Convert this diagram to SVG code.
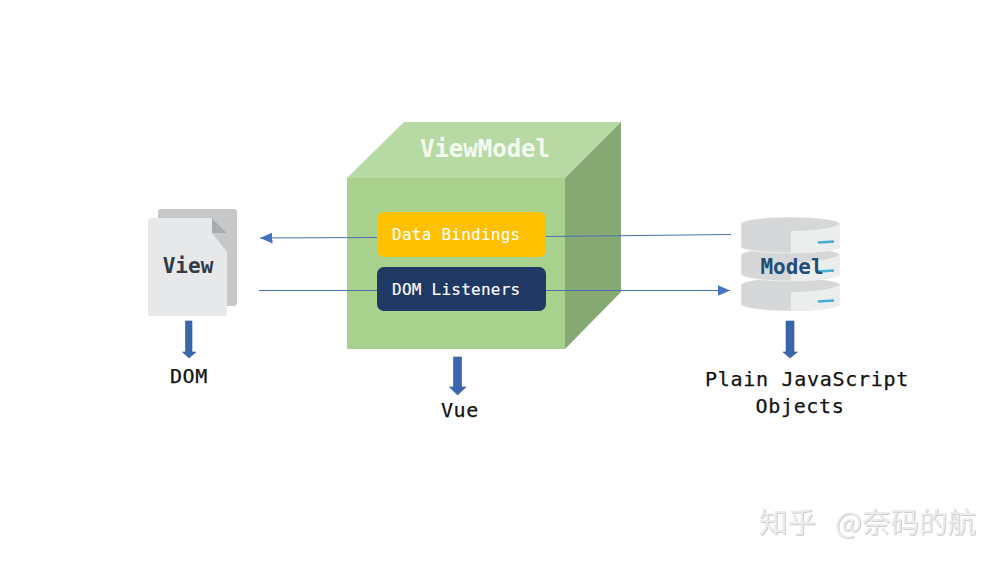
<svg xmlns="http://www.w3.org/2000/svg" width="1002" height="563" viewBox="0 0 1002 563">
<style>
text{font-family:"DejaVu Sans Mono","Liberation Mono",monospace}
.cap{font-size:20px;fill:#111;letter-spacing:.7px;stroke:#111;stroke-width:.25px}
.in{font-size:16px;fill:#fff;letter-spacing:.25px;stroke:#fff;stroke-width:.15px}
.big{font-weight:700;font-size:21px}
.wm{font-family:"Noto Sans CJK SC",sans-serif;font-size:28.500px;fill:#ececec}
.line{fill:none;stroke:#4a72ad;stroke-width:1.1}
.down{fill:#3a66ae;stroke:#2f5597;stroke-width:.6}
.side{fill:#d5d7d8}
.panel{fill:#eceded}
.disk{stroke:#fff;stroke-width:.5}
</style>
<defs>
<marker id="ah" markerUnits="userSpaceOnUse" markerWidth="13" markerHeight="12" refX="12.5" refY="6" orient="auto"><path d="M0 .5L12.5 6L0 11.5Z" fill="#4472c4"/></marker>
<filter id="emboss" x="-5%" y="-20%" width="110%" height="140%"><feDropShadow dx=".8" dy=".8" stdDeviation=".5" flood-color="#c4c4c4"/></filter>
</defs>
<rect width="1002" height="563" fill="#fff"/>
<g id="view">
<rect x="158" y="209" width="79" height="97" rx="3" fill="#c6c8ca"/>
<path d="M151 218H212L227 233V313a3 3 0 0 1-3 3H151a3 3 0 0 1-3-3V221a3 3 0 0 1 3-3Z" fill="#e7e8e9"/>
<path d="M212 218L227 233H212Z" fill="#a9abad"/>
<path d="M212 233H227V252Z" fill="#c6c8ca"/>
<text class="big" x="188" y="273" text-anchor="middle" fill="#333a48">View</text>
</g>
<g id="dom">
<path class="down" d="M185.500 321H192V352H196L189 358L182.500 352H185.500Z"/>
<text class="cap" x="189" y="383" text-anchor="middle">DOM</text>
</g>
<g id="viewmodel">
<path d="M347 178L404 122H621L565 178Z" fill="#b7d9a4"/>
<path d="M565 178L621 122V292L565 349Z" fill="#86a973"/>
<rect x="347" y="178" width="218" height="171" fill="#a9d18e"/>
<text x="485" y="157" text-anchor="middle" font-size="24" font-weight="700" fill="#f5faf0">ViewModel</text>
</g>
<g id="data-bindings">
<rect x="377" y="212" width="169" height="45" rx="7" fill="#ffc000"/>
<text class="in" x="392" y="240">Data Bindings</text>
</g>
<g id="dom-listeners">
<rect x="377" y="267" width="169" height="44" rx="7" fill="#1f3864"/>
<text class="in" x="392" y="295">DOM Listeners</text>
</g>
<g id="vue">
<path class="down" d="M453.500 357H461.500V387H466L457.500 395L449.500 387H453.500Z"/>
<text class="cap" x="460" y="417" text-anchor="middle">Vue</text>
</g>
<g id="model">
<g class="disk">
<path class="side" d="M741 285A49.500 7 0 0 1 840 285V304C840 308 815 311 790 311C765 311 741 308 741 304Z"/>
<path class="panel" stroke="none" d="M791 292C815 292 832 289 840 285V304C840 308 815 311 791 311Z"/>
</g>
<g class="disk">
<path class="side" d="M741 255A49.500 7 0 0 1 840 255V274C840 278 815 281 790 281C765 281 741 278 741 274Z"/>
<path class="panel" stroke="none" d="M791 262C815 262 832 259 840 255V274C840 278 815 281 791 281Z"/>
</g>
<g class="disk">
<path class="side" d="M741 224A49.500 7 0 0 1 840 224V247C840 250 815 253 790 253C765 253 741 250 741 247Z"/>
<path class="panel" stroke="none" d="M791 231C815 231 832 228 840 224V247C840 250 815 253 791 253Z"/>
</g>
<path d="M818 242.500L834 241.500M818 271.500L834 270.500M818 301.500L834 300.500" stroke="#45aed3" stroke-width="2.500" fill="none"/>
<text class="big" x="792" y="274" text-anchor="middle" fill="#1f4e79">Model</text>
</g>
<g id="objects">
<path class="down" d="M786 321H794V352H797.500L790 358L783 352H786Z"/>
<text class="cap" x="807" y="386" text-anchor="middle">Plain JavaScript</text>
<text class="cap" x="800" y="413" text-anchor="middle">Objects</text>
</g>
<g id="connectors">
<path class="line" d="M377 237.500L260 238" marker-end="url(#ah)"/>
<path class="line" d="M731 234.500L546 236.500"/>
<path class="line" d="M259 290.500H377"/>
<path class="line" d="M546 290.500H730" marker-end="url(#ah)"/>
</g>
<g id="watermark" filter="url(#emboss)">
<text class="wm" x="759" y="533">知乎</text>
<text class="wm" x="835" y="533">@奈码的航</text>
</g>
</svg>
